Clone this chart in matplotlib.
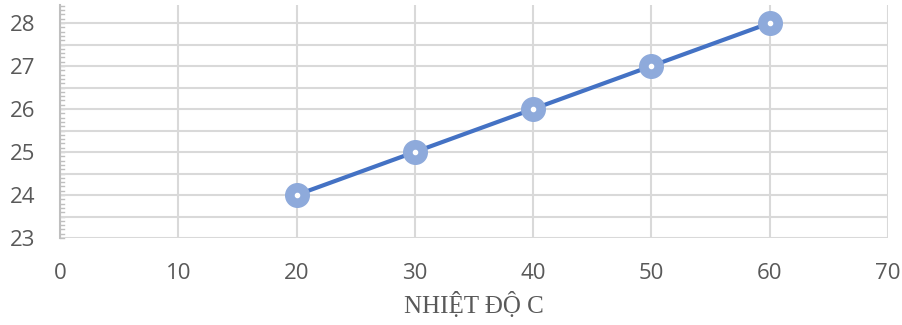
import matplotlib.pyplot as plt
from matplotlib.ticker import MultipleLocator

temps = [20, 30, 40, 50, 60]
values = [24, 25, 26, 27, 28]
x_ticks = [0, 10, 20, 30, 40, 50, 60, 70]
y_ticks = [23, 24, 25, 26, 27, 28]

fig = plt.figure(figsize=(9.02, 3.25), dpi=100)
ax = fig.add_axes([0.0665, 0.2677, 0.918, 0.717])

ax.plot(temps, values, color='#4472c4', linewidth=3, zorder=3)
ax.plot(temps, values, linestyle='none', marker='o', markersize=17,
        markerfacecolor='#8eaadb', markeredgecolor='#8eaadb', zorder=4)
ax.plot(temps, values, linestyle='none', marker='o', markersize=3,
        markerfacecolor='white', markeredgecolor='white', zorder=5)

ax.set_xlim(0, 70)
ax.set_ylim(23, 28.42)
ax.set_xticks(x_ticks)
ax.set_yticks(y_ticks)

# gridlines every 0.5 on y, every 10 on x
ax.yaxis.set_minor_locator(MultipleLocator(0.5))
ax.grid(True, which='major', color='#d9d9d9', linewidth=1.5)
ax.yaxis.grid(True, which='minor', color='#d9d9d9', linewidth=1.5)

for s in ['top', 'right', 'bottom']:
    ax.spines[s].set_visible(False)
ax.spines['left'].set_color('#bfbfbf')
ax.spines['left'].set_linewidth(1.5)

ax.tick_params(axis='both', which='major', length=0, labelsize=16, labelcolor='#595959')
ax.tick_params(axis='y', pad=18)
ax.tick_params(axis='x', pad=18)
ax.tick_params(axis='both', which='minor', length=0)
for lbl in ax.get_xticklabels() + ax.get_yticklabels():
    lbl.set_family('Open Sans')

# small tick marks along the y axis every 0.1
for v in [23 + i * 0.1 for i in range(55)]:
    ax.plot([0, 0.35], [v, v], color='#bfbfbf', linewidth=1, clip_on=False, zorder=1)

ax.set_xlabel('NHIỆT ĐỘ C', family='Liberation Serif', fontsize=18,
              color='#595959', labelpad=6)

fig.savefig('out.png', dpi=100)
